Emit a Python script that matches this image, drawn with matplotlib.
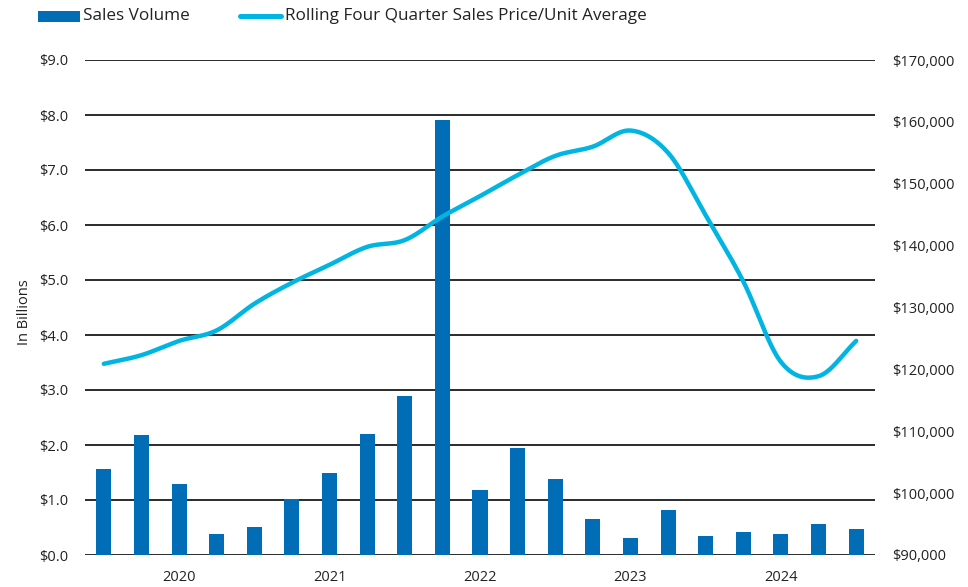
import numpy as np
import matplotlib
matplotlib.use("Agg")
import matplotlib.pyplot as plt
from matplotlib.lines import Line2D
from matplotlib.patches import Rectangle

plt.rcParams['font.family'] = ['Open Sans', 'DejaVu Sans']

# Quarterly sales volume (billions of dollars)
sales_volume = [1.56, 2.19, 1.29, 0.38, 0.51, 1.02, 1.49, 2.20, 2.89, 7.91,
                1.18, 1.95, 1.38, 0.65, 0.31, 0.82, 0.35, 0.42, 0.38, 0.57, 0.47]
# Rolling four-quarter average sales price per unit (dollars)
price_per_unit = [120900, 122300, 124600, 126300, 130600, 134000, 136900,
                  139800, 140900, 144700, 148000, 151400, 154500, 156000,
                  158600, 155000, 144900, 134200, 121200, 118900, 124600]
year_labels = ['2020', '2021', '2022', '2023', '2024']
year_positions = [2, 6, 10, 14, 18]
series_names = ['Sales Volume', 'Rolling Four Quarter Sales Price/Unit Average']

bar_color = '#006DB6'
line_color = '#00B5E2'
grid_color = '#1a1a1a'
text_color = '#222222'


def catmull_rom(x, y, n=30):
    """Smooth curve through every point (Catmull-Rom, like a spreadsheet 'smoothed line')."""
    x = np.asarray(x, float)
    y = np.asarray(y, float)
    px = np.concatenate([[2 * x[0] - x[1]], x, [2 * x[-1] - x[-2]]])
    py = np.concatenate([[2 * y[0] - y[1]], y, [2 * y[-1] - y[-2]]])
    xs, ys = [], []
    t = np.linspace(0, 1, n, endpoint=False)
    for i in range(1, len(px) - 2):
        for p, out in ((px, xs), (py, ys)):
            p0, p1, p2, p3 = p[i - 1], p[i], p[i + 1], p[i + 2]
            out.append(0.5 * ((2 * p1) + (-p0 + p2) * t
                              + (2 * p0 - 5 * p1 + 4 * p2 - p3) * t ** 2
                              + (-p0 + 3 * p1 - 3 * p2 + p3) * t ** 3))
    xs.append([x[-1]])
    ys.append([y[-1]])
    return np.concatenate(xs), np.concatenate(ys)


W, H = 968, 587
fig = plt.figure(figsize=(W / 100, H / 100), dpi=100)
ax = fig.add_axes([85 / W, (H - 555) / H, (875 - 85) / W, (555 - 60) / H])

idx = np.arange(len(sales_volume))
ax.bar(idx, sales_volume, width=0.4, color=bar_color, zorder=3)
ax.set_xlim(-0.5, len(sales_volume) - 0.5)
ax.set_ylim(0, 9)
yt = np.arange(0, 9.01, 1.0)
ax.set_yticks(yt)
ax.set_yticklabels([f'${v:.1f}' for v in yt])
ax.yaxis.grid(True, color=grid_color, linewidth=1.3, zorder=1)
ax.set_axisbelow(True)
ax.set_xticks(year_positions)
ax.set_xticklabels(year_labels)
ax.tick_params(axis='both', length=0, labelsize=10.5, colors=text_color)
ax.tick_params(axis='y', pad=12)
ax.tick_params(axis='x', pad=11)
for s in ax.spines.values():
    s.set_visible(False)
ax.set_ylabel('In Billions', fontsize=10.5, color=text_color)
ax.yaxis.set_label_coords((32 - 85) / 790, 0.49)

ax2 = ax.twinx()
sx, sy = catmull_rom(idx, price_per_unit)
ax2.plot(sx, sy, color=line_color, linewidth=3.2, solid_capstyle='round', zorder=4)
ax2.set_ylim(90000, 170000)
ticks2 = np.arange(90000, 170001, 10000)
ax2.set_yticks(ticks2)
ax2.set_yticklabels([f'${v:,.0f}' for v in ticks2])
ax2.tick_params(axis='y', length=0, labelsize=10.5, colors=text_color, pad=12)
for s in ax2.spines.values():
    s.set_visible(False)

# Legend row along the top edge
ly = 1 - 16 / H
fig.add_artist(Rectangle((38 / W, 1 - 22 / H), 42 / W, 11 / H,
                         transform=fig.transFigure, facecolor=bar_color,
                         edgecolor='none'))
fig.text(83 / W, ly, series_names[0], fontsize=12.3, color=text_color,
         va='center', ha='left')
fig.add_artist(Line2D([240 / W, 281 / W], [ly, ly], transform=fig.transFigure,
                      color=line_color, linewidth=3.6, solid_capstyle='round'))
fig.text(285 / W, ly, series_names[1], fontsize=12.3, color=text_color,
         va='center', ha='left')

fig.savefig('out.png', dpi=100)
